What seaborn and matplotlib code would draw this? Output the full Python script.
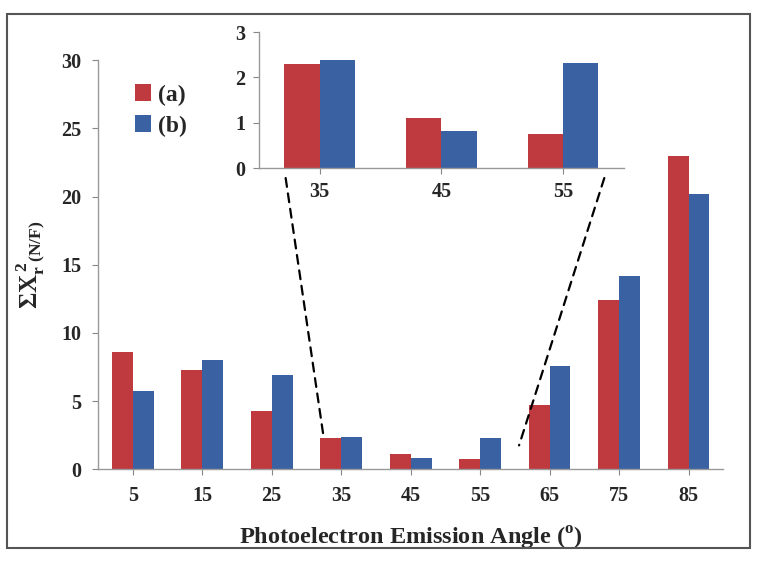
import pandas as pd
import matplotlib
matplotlib.use('Agg')
import matplotlib.pyplot as plt
import seaborn as sns
from matplotlib.patches import ConnectionPatch, Rectangle

# Datos
angulos = ['5', '15', '25', '35', '45', '55', '65', '75', '85']
serie_a = [8.6, 7.25, 4.3, 2.3, 1.1, 0.76, 4.7, 12.45, 23.0]
serie_b = [5.75, 8.0, 6.95, 2.38, 0.82, 2.32, 7.55, 14.15, 20.2]

angulos_zoom = ['35', '45', '55']
zoom_a = [2.30, 1.10, 0.76]
zoom_b = [2.38, 0.82, 2.32]

colores = ['#BE3A3E', '#3A62A3']

df = pd.DataFrame({
    'Angulo': angulos * 2,
    'Valor': serie_a + serie_b,
    'Serie': ['(a)'] * len(angulos) + ['(b)'] * len(angulos),
})
df_zoom = pd.DataFrame({
    'Angulo': angulos_zoom * 2,
    'Valor': zoom_a + zoom_b,
    'Serie': ['(a)'] * len(angulos_zoom) + ['(b)'] * len(angulos_zoom),
})

sns.set_style('white')
plt.rcParams['font.family'] = ['Liberation Serif', 'DejaVu Serif']
plt.rcParams['font.weight'] = 'bold'
plt.rcParams['mathtext.fontset'] = 'custom'
plt.rcParams['mathtext.rm'] = 'Liberation Serif'
plt.rcParams['mathtext.bf'] = 'Liberation Serif:bold'

fig = plt.figure(figsize=(7.57, 5.64), dpi=100)


def estilo_ejes(a):
    a.tick_params(axis='both', labelsize=14.5, length=4, color='#888888', direction='out',
                  bottom=True, left=True, pad=8)
    for s in ['top', 'right']:
        a.spines[s].set_visible(False)
    for s in ['left', 'bottom']:
        a.spines[s].set_color('#999999')
        a.spines[s].set_linewidth(1)
    for lbl in a.get_xticklabels() + a.get_yticklabels():
        lbl.set_fontweight('bold')


# Gráfico principal
ax = fig.add_axes([0.1295, 0.168, 0.826, 0.725])
sns.barplot(data=df, x='Angulo', y='Valor', hue='Serie', order=angulos,
            palette=colores, width=0.6, saturation=1, linewidth=0, ax=ax)
ax.set_ylim(0, 30)
ax.set_yticks([0, 5, 10, 15, 20, 25, 30])
ax.set_xlim(-0.5, len(angulos) - 0.5)
ax.set_xlabel(r'Photoelectron Emission Angle ($^{\mathbf{o}}$)', fontsize=17.5,
              fontweight='bold', labelpad=14)
ax.set_ylabel(r'$\mathbf{\Sigma X}_{\mathbf{r}}^{\mathbf{\,2}}{}_{\mathbf{(N/F)}}$',
              fontsize=18, labelpad=10)
estilo_ejes(ax)

ax.legend(loc='upper left', bbox_to_anchor=(0.15, 0.888), bbox_transform=fig.transFigure,
          frameon=False, prop={'size': 17, 'weight': 'bold'},
          handlelength=0.7, handleheight=0.7, handletextpad=0.3, labelspacing=0.4)

# Gráfico ampliado
axz = fig.add_axes([0.342, 0.702, 0.482, 0.241])
sns.barplot(data=df_zoom, x='Angulo', y='Valor', hue='Serie', order=angulos_zoom,
            palette=colores, width=0.58, saturation=1, linewidth=0, ax=axz, legend=False)
axz.set_ylim(0, 3)
axz.set_yticks([0, 1, 2, 3])
axz.set_xlim(-0.5, len(angulos_zoom) - 0.5)
axz.set_xlabel('')
axz.set_ylabel('')
estilo_ejes(axz)
axz.tick_params(axis='both', pad=6)

# Líneas discontinuas
for xz, yz, xm, ym in [(-0.28, -0.22, 2.74, 2.6), (2.34, -0.22, 5.56, 1.75)]:
    con = ConnectionPatch(xyA=(xz, yz), coordsA=axz.transData,
                          xyB=(xm, ym), coordsB=ax.transData,
                          linestyle=(0, (4, 3)), color='black', linewidth=1.6)
    fig.add_artist(con)

# Marco exterior
fig.add_artist(Rectangle((7 / 757, 1 - 548 / 564), 743 / 757, 534 / 564,
                         transform=fig.transFigure, fill=False,
                         edgecolor='#555555', linewidth=1.5))

fig.savefig('out.png', dpi=100)
